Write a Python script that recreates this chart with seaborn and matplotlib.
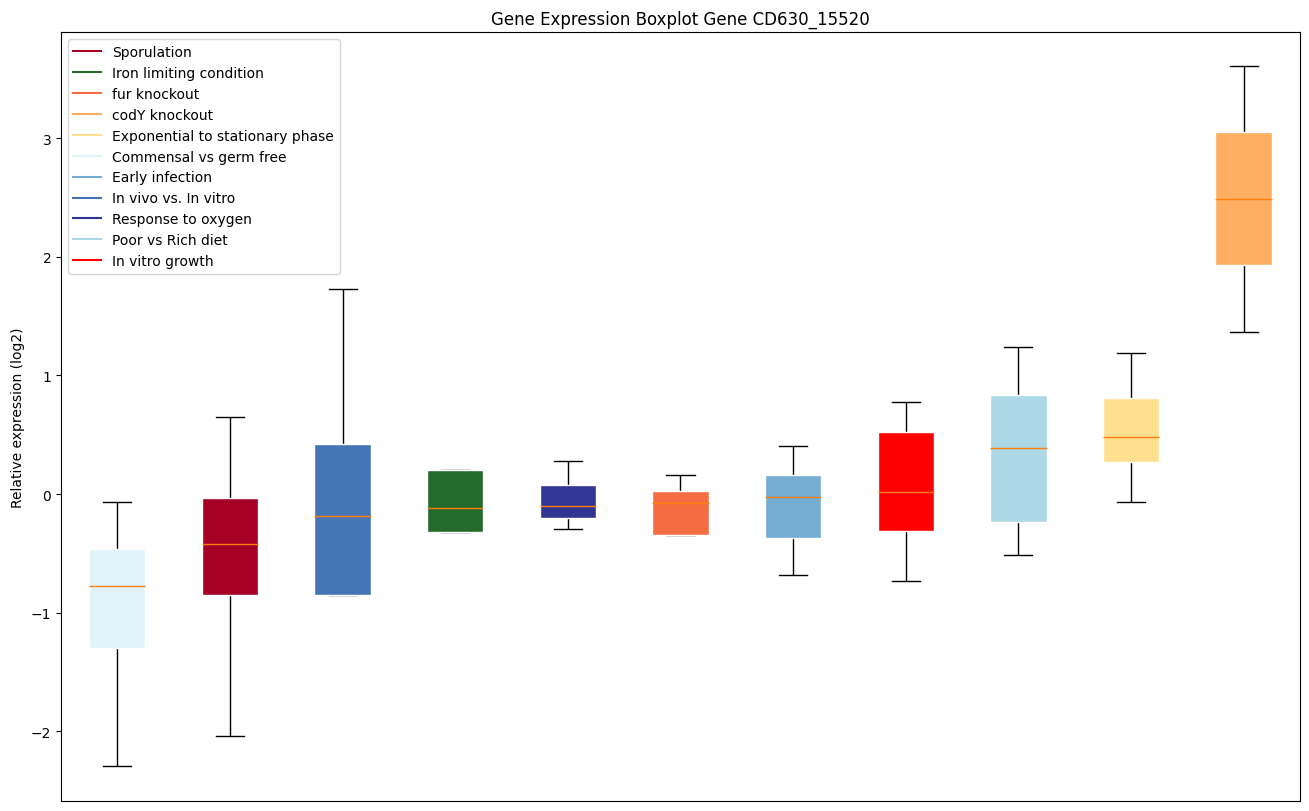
import numpy as np
import pandas as pd
import seaborn as sns
import matplotlib.pyplot as plt
from matplotlib.lines import Line2D

# Boxes in plotting order (left -> right)
groups = ["Commensal vs germ free", "Sporulation", "In vivo vs. In vitro",
          "Iron limiting condition", "Response to oxygen", "fur knockout",
          "Early infection", "In vitro growth", "Poor vs Rich diet",
          "Exponential to stationary phase", "codY knockout"]

# five-number summaries (low whisker, Q1, median, Q3, high whisker)
lows = [-2.29, -2.04, -0.85, -0.32, -0.295, -0.345, -0.68, -0.73, -0.515, -0.067, 1.365]
q1s = [-1.297, -0.851, -0.851, -0.32, -0.202, -0.345, -0.371, -0.312, -0.236, 0.27, 1.929]
medians = [-0.775, -0.421, -0.185, -0.118, -0.101, -0.076, -0.025, 0.017, 0.388, 0.48, 2.485]
q3s = [-0.463, -0.034, 0.421, 0.202, 0.08, 0.025, 0.16, 0.522, 0.834, 0.809, 3.05]
highs = [-0.067, 0.649, 1.727, 0.202, 0.278, 0.16, 0.404, 0.775, 1.238, 1.188, 3.606]

# legend order and colours
legend_names = ["Sporulation", "Iron limiting condition", "fur knockout", "codY knockout",
                "Exponential to stationary phase", "Commensal vs germ free", "Early infection",
                "In vivo vs. In vitro", "Response to oxygen", "Poor vs Rich diet", "In vitro growth"]
legend_colors = ["#a50026", "#236b2c", "#f46d43", "#fdae61", "#fee090", "#e0f3f8",
                 "#74add1", "#4575b4", "#313695", "lightblue", "red"]
palette = dict(zip(legend_names, legend_colors))

rows = []
for g, a, b, c, d, e in zip(groups, lows, q1s, medians, q3s, highs):
    for v in (a, b, c, d, e):
        rows.append({"group": g, "value": v})
df = pd.DataFrame(rows)

fig = plt.figure(figsize=(13.09, 8.12), dpi=100)
ax = fig.add_axes([0.0466, 0.0123, 0.9465, 0.9467])

sns.boxplot(data=df, x="group", y="value", hue="group", order=groups, hue_order=groups,
            palette=palette, saturation=1, width=0.5, whis=(0, 100), legend=False, ax=ax,
            boxprops=dict(edgecolor="white", linewidth=1, zorder=3),
            medianprops=dict(color="#ff7f0e", linewidth=1, zorder=4),
            whiskerprops=dict(color="black", linewidth=1, zorder=2),
            capprops=dict(color="black", linewidth=1, zorder=2))

ax.set_xticks([])
ax.set_xlabel("")
ax.set_ylabel("Relative expression (log2)")
ax.set_title("Gene Expression Boxplot Gene CD630_15520")
ax.set_xlim(-0.5, len(groups) - 0.5)
ax.set_ylim(-2.586, 3.892)

handles = [Line2D([0], [0], color=c, lw=1.5) for c in legend_colors]
ax.legend(handles, legend_names, loc="upper left")

fig.savefig("out.png", dpi=100)
